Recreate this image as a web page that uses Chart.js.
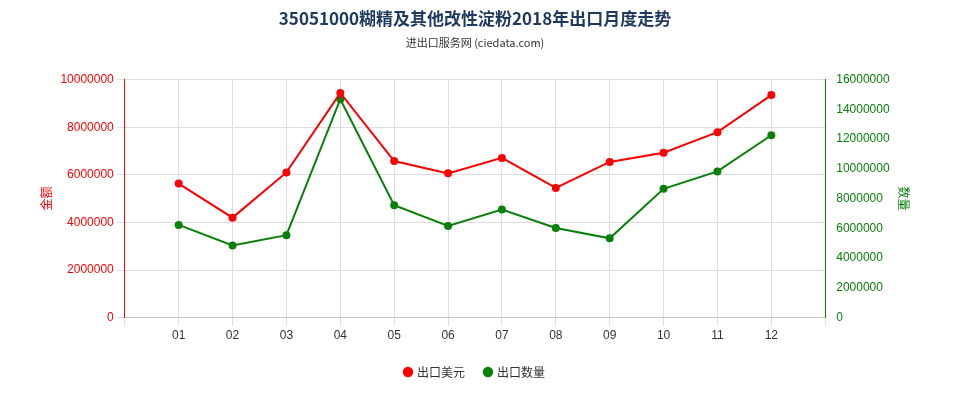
<!DOCTYPE html>
<html><head><meta charset="utf-8">
<script src="https://cdn.jsdelivr.net/npm/chart.js@4"></script>
<style>body{margin:0;background:#fff}#w{width:960px;height:400px}</style></head>
<body><div id="w"><canvas id="c" width="960" height="400"></canvas></div>
<script>
const categories=['','01','02','03','04','05','06','07','08','09','10','11','12',''];
const usd=[null,5630000,4200000,6100000,9440000,6580000,6060000,6710000,5450000,6540000,6930000,7790000,9350000,null];
const qty=[null,6230000,4850000,5540000,14680000,7550000,6160000,7270000,6020000,5330000,8660000,9830000,12260000,null];
const leftTicks=[0,2000000,4000000,6000000,8000000,10000000];
const F='"Noto Sans CJK SC", sans-serif';
new Chart(document.getElementById('c'),{type:'line',
data:{labels:categories,datasets:[
{label:'出口美元',data:usd,borderColor:'#ff0000',backgroundColor:'#ff0000',yAxisID:'y',pointRadius:3,borderWidth:2,tension:0},
{label:'出口数量',data:qty,borderColor:'#0a800a',backgroundColor:'#0a800a',yAxisID:'y1',pointRadius:3,borderWidth:2,tension:0}]},
options:{responsive:false,animation:false,
layout:{padding:{left:35,right:45,top:0,bottom:12}},
plugins:{title:{display:true,text:'35051000糊精及其他改性淀粉2018年出口月度走势',color:'#1f3a5f',font:{family:F,size:17,weight:'bold'},padding:{top:8,bottom:8}},
subtitle:{display:true,text:'进出口服务网 (ciedata.com)',color:'#333',font:{family:F,size:11},padding:{bottom:30}},
legend:{position:'bottom',labels:{usePointStyle:true,pointStyle:'circle',boxWidth:6,boxHeight:6,font:{family:F,size:12},color:'#333',padding:20}}},
scales:{x:{offset:false,grid:{color:'#ddd'},ticks:{color:'#333',font:{size:12}}},
y:{position:'left',min:0,max:10000000,afterBuildTicks:a=>{a.ticks=leftTicks.map(v=>({value:v}))},grid:{color:'#ddd'},border:{color:'#ff0000'},ticks:{color:'#ff0000',font:{size:12},callback:v=>String(v)},title:{display:true,text:'金额',color:'#ff0000',font:{family:F,size:12}}},
y1:{position:'right',min:0,max:16000000,ticks:{stepSize:2000000,color:'#0a800a',font:{size:12},callback:v=>String(v)},grid:{display:false},border:{color:'#0a800a'},title:{display:true,text:'数量',color:'#0a800a',font:{family:F,size:12}}}}}});
</script></body></html>
